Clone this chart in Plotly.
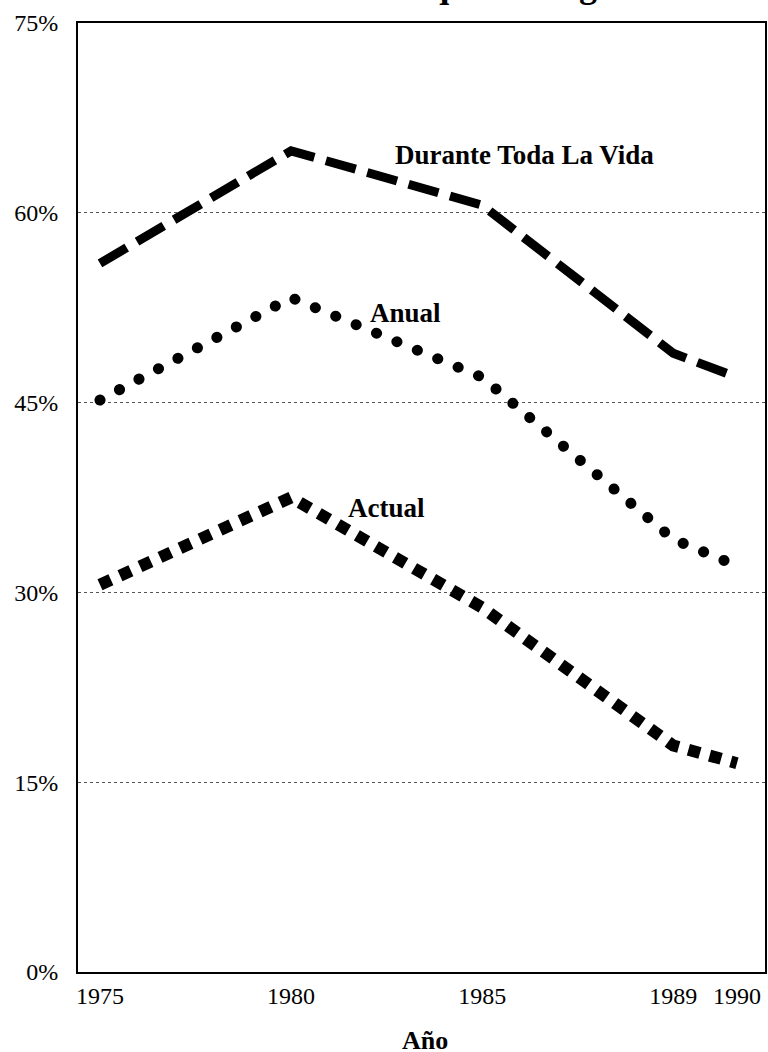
import plotly.graph_objects as go

# ---- data ----
years = ["1975", "1980", "1985", "1989", "1990"]
lifetime = [56.0, 64.9, 60.6, 48.9, 47.0]   # Durante Toda La Vida
annual = [45.2, 53.3, 47.0, 34.2, 32.1]     # Anual
current = [30.6, 37.5, 28.8, 17.9, 16.5]    # Actual
y_ticks = [0, 15, 30, 45, 60, 75]

title_text = "Prevalencia de Cualquier Droga Ilícita"
x_title = "Año"

FONT = "Liberation Serif"

# category slots: multi-year gaps get two blank slots in between, 1-year gaps none
cats = []
for i, yv in enumerate(years):
    cats.append(yv)
    if i < len(years) - 1:
        gap = int(years[i + 1]) - int(yv)
        if gap > 1:
            cats += [f"_{yv}_{k}" for k in range(2)]

fig = go.Figure()
# invisible helper trace registering every slot on the category axis
fig.add_trace(go.Scatter(x=cats, y=[None] * len(cats), mode="lines",
                         showlegend=False, hoverinfo="skip"))
fig.add_trace(go.Scatter(x=years, y=lifetime, mode="lines", name="Durante Toda La Vida",
                         line=dict(color="black", width=9, dash="31px,12px")))
fig.add_trace(go.Scatter(x=years, y=annual, mode="lines", name="Anual",
                         line=dict(color="black", width=11, dash="11px,11px")))
fig.add_trace(go.Scatter(x=years, y=current, mode="lines", name="Actual",
                         line=dict(color="black", width=12, dash="12px,10px")))

fig.update_layout(
    template="none",
    width=768, height=1052,
    margin=dict(l=78, r=3, t=23, b=80),
    paper_bgcolor="white", plot_bgcolor="white",
    showlegend=False,
    font=dict(family=FONT, size=24, color="black"),
)
fig.update_xaxes(
    type="category", categoryorder="array", categoryarray=cats,
    range=[-0.345, 10.44],
    tickvals=years, ticktext=years,
    showgrid=False, zeroline=False,
    showline=True, linecolor="black", linewidth=2, mirror=True,
    ticks="", ticklabelstandoff=1,
    tickfont=dict(family=FONT, size=24, color="black"),
)
fig.update_yaxes(
    range=[0, 75], tickvals=y_ticks, ticktext=[f"{v}%" for v in y_ticks],
    showgrid=True, gridcolor="#555", gridwidth=1, griddash="dot",
    zeroline=False,
    showline=True, linecolor="black", linewidth=2, mirror=True,
    ticks="", ticklabelstandoff=13,
    tickfont=dict(family=FONT, size=24, color="black"),
)

lab_font = dict(family=FONT, size=27, color="black")
fig.add_annotation(x=4.6, y=64.6, xref="x", yref="y", text="<b>Durante Toda La Vida</b>",
                   showarrow=False, xanchor="left", yanchor="middle", font=lab_font)
fig.add_annotation(x=4.2, y=52.1, xref="x", yref="y", text="<b>Anual</b>",
                   showarrow=False, xanchor="left", yanchor="middle", font=lab_font)
fig.add_annotation(x=3.87, y=36.7, xref="x", yref="y", text="<b>Actual</b>",
                   showarrow=False, xanchor="left", yanchor="middle", font=lab_font)

# axis title
fig.add_annotation(x=0.505, y=-0.0727, xref="paper", yref="paper", text=f"<b>{x_title}</b>",
                   showarrow=False, xanchor="center", yanchor="middle",
                   font=dict(family=FONT, size=26, color="black"))
# chart title (mostly cut off at the top of the page, as in the reference)
fig.add_annotation(x=0.495, y=1.0169, xref="paper", yref="paper", text=f"<b>{title_text}</b>",
                   showarrow=False, xanchor="center", yanchor="bottom",
                   font=dict(family=FONT, size=36, color="black"))

post = """
document.body.style.margin = '0';
document.body.style.padding = '0';
document.body.style.overflow = 'hidden';
var gd = document.getElementById('{plot_id}');
function roundDots(){
  var tr = gd.querySelectorAll('.scatterlayer .trace');
  if (tr.length > 2) {
    tr[2].querySelectorAll('path.js-line').forEach(function(p){
      p.style.strokeLinecap = 'round';
      p.style.strokeDasharray = '0.1px,22px';
    });
  }
}
roundDots();
gd.on('plotly_afterplot', roundDots);
"""

fig.write_html("out.html", post_script=post, config={"displayModeBar": False})
